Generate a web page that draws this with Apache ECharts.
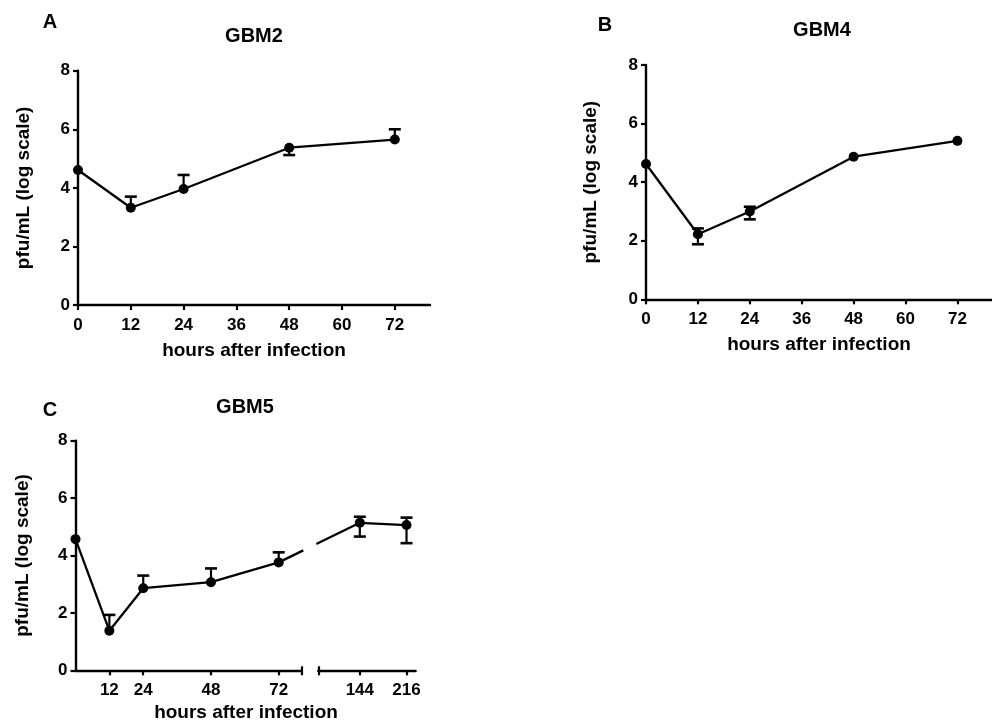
<!DOCTYPE html>
<html><head><meta charset="utf-8">
<script src="https://cdn.jsdelivr.net/npm/echarts@6/dist/echarts.min.js"></script>
<style>html,body{margin:0;padding:0;background:#fff}#c{width:992px;height:724px}</style>
</head><body><div id="c"></div>
<script>
// ---- data ----
const hoursA = [0, 12, 24, 48, 72];
const meanA  = [4.61, 3.32, 3.96, 5.37, 5.65];
const upperA = [null, 3.70, 4.44, null, 6.00];
const lowerA = [null, null, null, 5.12, null];

const hoursB = [0, 12, 24, 48, 72];
const meanB  = [4.62, 2.22, 3.00, 4.87, 5.41];
const upperB = [null, 2.42, 3.16, null, null];
const lowerB = [null, 1.88, 2.73, null, null];

const hoursC = [0, 12, 24, 48, 72, 144, 216];
const meanC  = [4.57, 1.38, 2.86, 3.07, 3.76, 5.14, 5.06];
const upperC = [null, 1.93, 3.30, 3.55, 4.11, 5.35, 5.32];
const lowerC = [null, null, null, null, null, 4.66, 4.43];

const yTicks   = [0, 2, 4, 6, 8];
const xTicksAB = [0, 12, 24, 36, 48, 60, 72];
const xTicksC1 = [12, 24, 48, 72];
const xTicksC2 = [144, 216];
const xMaxAB = 80;
const breakAt = 80;
const xMaxC2 = 230;

const titles = ['GBM2', 'GBM4', 'GBM5'];
const panelLetters = ['A', 'B', 'C'];
const xName = 'hours after infection';
const yName = 'pfu/mL (log scale)';

// ---- helpers ----
const FONT = '"Liberation Sans", Arial, sans-serif';
const chart = echarts.init(document.getElementById('c'), null, {renderer: 'canvas'});

function pts(h, m) { return h.map((x, i) => [x, m[i]]); }
function errData(h, m, lo, hi) {
  const out = [];
  h.forEach((x, i) => {
    if (lo[i] != null || hi[i] != null) out.push([x, m[i], lo[i] == null ? m[i] : lo[i], hi[i] == null ? m[i] : hi[i]]);
  });
  return out;
}
function errRender(params, api) {
  const x = api.value(0), m = api.value(1), lo = api.value(2), hi = api.value(3);
  const pm = api.coord([x, m]);
  const ch = [];
  [lo, hi].forEach(v => {
    if (v === m || isNaN(v)) return;
    const p = api.coord([x, v]);
    ch.push({type: 'line', shape: {x1: pm[0], y1: pm[1], x2: p[0], y2: p[1]}, style: {stroke: '#000', lineWidth: 2.2}});
    ch.push({type: 'line', shape: {x1: p[0] - 6, y1: p[1], x2: p[0] + 6, y2: p[1]}, style: {stroke: '#000', lineWidth: 2.6}});
  });
  return {type: 'group', children: ch};
}
function yAxis(grid, gap, show) {
  return {
    type: 'value', gridIndex: grid, min: 0, max: 8, interval: 2, show: show !== false,
    name: show === false ? '' : yName, nameLocation: 'middle', nameGap: gap,
    nameTextStyle: {fontFamily: FONT, fontWeight: 'bold', fontSize: 19, color: '#000'},
    axisLine: {show: true, lineStyle: {color: '#000', width: 2.4}},
    axisTick: {show: true, length: 5, customValues: yTicks, lineStyle: {color: '#000', width: 2.2}},
    axisLabel: {fontFamily: FONT, fontWeight: 'bold', fontSize: 17, color: '#000', margin: 8, customValues: yTicks},
    splitLine: {show: false}
  };
}
function xAxis(grid, min, max, ticks, name, extraTicks) {
  return {
    type: 'value', gridIndex: grid, min: min, max: max, position: 'bottom',
    name: name || '', nameLocation: 'middle', nameGap: 36,
    nameTextStyle: {fontFamily: FONT, fontWeight: 'bold', fontSize: 19, color: '#000'},
    axisLine: {show: true, onZero: false, lineStyle: {color: '#000', width: 2.4}},
    axisTick: {show: true, length: 5, customValues: ticks.concat(extraTicks || []), lineStyle: {color: '#000', width: 2.2}},
    axisLabel: {fontFamily: FONT, fontWeight: 'bold', fontSize: 17, color: '#000', margin: 12, customValues: ticks},
    splitLine: {show: false}
  };
}
function capAxis(grid, min, max, at) {
  return {
    type: 'value', gridIndex: grid, min: min, max: max, position: 'bottom',
    axisLine: {show: false}, axisLabel: {show: false}, splitLine: {show: false},
    axisTick: {show: true, inside: true, length: 4, customValues: [at], lineStyle: {color: '#000', width: 2.2}}
  };
}
function lineSeries(xi, yi, data) {
  return {
    type: 'line', xAxisIndex: xi, yAxisIndex: yi, data: data, z: 5,
    symbol: 'circle', symbolSize: 10, showAllSymbol: true, clip: false,
    lineStyle: {color: '#000', width: 2.3}, itemStyle: {color: '#000'}, animation: false
  };
}
function errSeries(xi, yi, data) {
  return {type: 'custom', xAxisIndex: xi, yAxisIndex: yi, data: data, z: 3, clip: false,
    renderItem: errRender, encode: {x: 0, y: 1}, animation: false};
}

const textStyle = (size) => ({font: 'bold ' + size + 'px ' + FONT, fill: '#000', align: 'center', verticalAlign: 'middle'});

const option = {
  backgroundColor: '#ffffff',
  animation: false,
  grid: [
    {left: 78, top: 70.7, width: 352, height: 234.3},
    {left: 646, top: 65, width: 352.5, height: 234.3},
    {left: 75.5, top: 440.7, width: 225.8, height: 229.6},
    {left: 318.3, top: 440.7, width: 97.3, height: 229.6}
  ],
  xAxis: [
    xAxis(0, 0, xMaxAB, xTicksAB, xName),
    xAxis(1, 0, xMaxAB, xTicksAB, xName),
    xAxis(2, 0, breakAt, xTicksC1, '', [breakAt]),
    xAxis(3, breakAt, xMaxC2, xTicksC2, '', [breakAt]),
    capAxis(2, 0, breakAt, breakAt),
    capAxis(3, breakAt, xMaxC2, breakAt)
  ],
  yAxis: [yAxis(0, 45), yAxis(1, 46), yAxis(2, 43), yAxis(3, 0, false)],
  graphic: [
    {type: 'text', x: 50, y: 22, style: Object.assign({text: panelLetters[0]}, textStyle(20))},
    {type: 'text', x: 605, y: 25, style: Object.assign({text: panelLetters[1]}, textStyle(20))},
    {type: 'text', x: 50, y: 410, style: Object.assign({text: panelLetters[2]}, textStyle(20))},
    {type: 'text', x: 254, y: 36, style: Object.assign({text: titles[0]}, textStyle(20))},
    {type: 'text', x: 822, y: 30, style: Object.assign({text: titles[1]}, textStyle(20))},
    {type: 'text', x: 245, y: 407, style: Object.assign({text: titles[2]}, textStyle(20))},
    {type: 'text', x: 246, y: 713, style: Object.assign({text: xName}, textStyle(19))}
  ],
  series: [
    errSeries(0, 0, errData(hoursA, meanA, lowerA, upperA)),
    lineSeries(0, 0, pts(hoursA, meanA)),
    errSeries(1, 1, errData(hoursB, meanB, lowerB, upperB)),
    lineSeries(1, 1, pts(hoursB, meanB)),
    errSeries(2, 2, errData(hoursC.slice(0, 5), meanC.slice(0, 5), lowerC.slice(0, 5), upperC.slice(0, 5))),
    lineSeries(2, 2, pts(hoursC.slice(0, 5), meanC.slice(0, 5))),
    errSeries(3, 3, errData(hoursC.slice(5), meanC.slice(5), lowerC.slice(5), upperC.slice(5))),
    lineSeries(3, 3, pts(hoursC.slice(5), meanC.slice(5))),
    // connector across the axis break (72 h -> 144 h), interrupted at the break
    {
      type: 'custom', xAxisIndex: 2, yAxisIndex: 2, z: 4, clip: false, animation: false,
      data: [[hoursC[4], meanC[4], hoursC[5], meanC[5]]],
      encode: {x: 0, y: 1},
      renderItem: function (params, api) {
        const p1 = api.coord([api.value(0), api.value(1)]);
        let p2, xl;
        try {
          p2 = chart.convertToPixel({xAxisIndex: 3, yAxisIndex: 3}, [api.value(2), api.value(3)]);
          xl = chart.convertToPixel({xAxisIndex: 3, yAxisIndex: 3}, [breakAt, 0])[0];
        } catch (e) { return null; }
        if (!p2) return null;
        const xr = api.coord([breakAt, 0])[0];
        const lerp = (xx) => p1[1] + (p2[1] - p1[1]) * (xx - p1[0]) / (p2[0] - p1[0]);
        const st = {stroke: '#000', lineWidth: 2.3};
        return {type: 'group', children: [
          {type: 'line', shape: {x1: p1[0], y1: p1[1], x2: xr + 2, y2: lerp(xr + 2)}, style: st},
          {type: 'line', shape: {x1: xl - 2, y1: lerp(xl - 2), x2: p2[0], y2: p2[1]}, style: st}
        ]};
      }
    }
  ]
};
chart.setOption(option);
</script>
</body></html>
